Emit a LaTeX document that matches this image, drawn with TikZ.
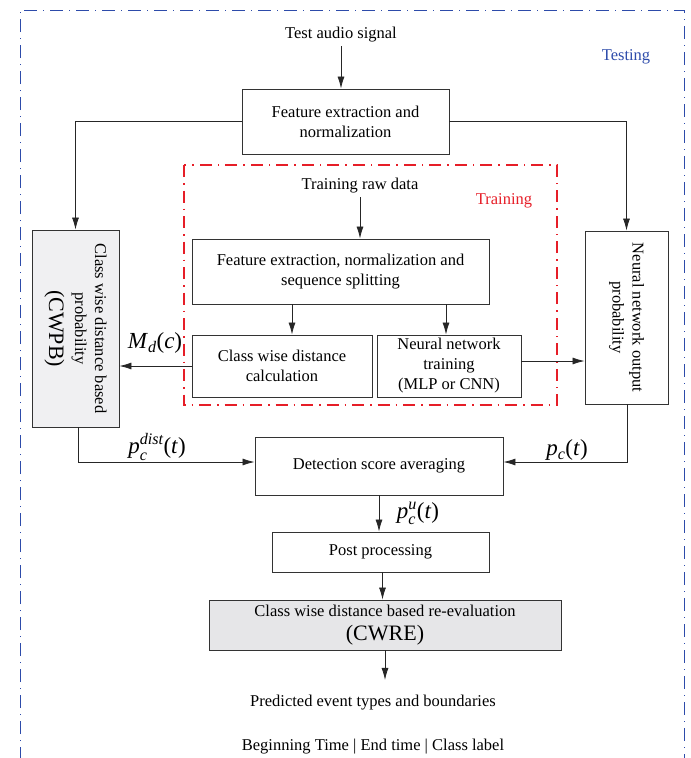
\documentclass[tikz,border=0pt]{standalone}
\usepackage{amsmath}
\usepackage{fontspec}
\setmainfont{Liberation Serif}
\usetikzlibrary{arrows.meta}
\definecolor{testblue}{RGB}{45,75,170}
\definecolor{trainred}{RGB}{230,30,40}
\definecolor{boxgray}{RGB}{240,240,242}
\definecolor{cwregray}{RGB}{230,230,232}

\begin{document}
\begin{tikzpicture}[x=1pt,y=-1pt]
    \tikzstyle{every node}=[font=\fontsize{16.5}{20}\selectfont]
    \tikzstyle{block}=[draw=black!80, line width=0.9pt, align=center, inner sep=0pt]
    \tikzstyle{flow}=[-{Latex[length=12pt,width=7pt]}, line width=0.8pt, draw=black!85]
    \tikzstyle{lab}=[font=\fontsize{23}{26}\selectfont]

    \useasboundingbox (0,0) rectangle (691,758);
    \draw[testblue, line width=1pt, dash pattern=on 13pt off 6pt on 1pt off 6pt]
        (20,760) -- (20,10) -- (684,10) -- (684,760);
    \draw[trainred, line width=1.3pt, dash pattern=on 12pt off 6pt on 1.5pt off 6pt]
        (184,165) rectangle (557,405);

    \node[testblue] (testing) at (626,57) {Testing};
    \node[trainred] (training) at (504,201) {Training};

    \node (test) at (341,35) {Test audio signal};
    \node[block, minimum width=207pt, minimum height=65pt] (fe) at (345.5,121.5) {Feature extraction and\\normalization};
    \node (raw) at (360,186) {Training raw data};
    \node[block, minimum width=297pt, minimum height=65pt] (fens) at (340.5,271.5) {Feature extraction, normalization and\\sequence splitting};
    \node[block, minimum width=180pt, minimum height=62pt] (cwd) at (282,366) {Class wise distance\\calculation};
    \node[block, minimum width=144pt, minimum height=62pt] (nnt) at (449,366) {Neural network\\training\\(MLP or CNN)};
    \node[block, fill=boxgray, minimum width=87pt, minimum height=197pt] (cwpb) at (75.5,328.5) {};
    \node[rotate=-90, align=center] (cwpbtext) at (cwpb.center) {Class wise distance based\\probability\\[6pt]{\fontsize{22}{24}\selectfont (CWPB)}};
    \node[block, minimum width=83pt, minimum height=173pt] (nno) at (626.5,317.5) {};
    \node[rotate=-90, align=center] (nnotext) at (nno.center) {Neural network output\\probability};
    \node[block, minimum width=248pt, minimum height=58pt] (det) at (379,466) {Detection score averaging};
    \node[block, minimum width=217pt, minimum height=40pt] (post) at (380.5,552) {Post processing};
    \node[block, fill=cwregray, minimum width=352pt, minimum height=50pt] (cwre) at (385,625) {Class wise distance based re-evaluation\\[4pt]{\fontsize{22}{24}\selectfont (CWRE)}};
    \node (pred) at (373,703) {Predicted event types and boundaries};
    \node (begin) at (373,747) {Beginning Time | End time | Class label};

    \node[lab] (md) at (155,343) {\textit{M}$_{\textit{d}}$(\textit{c})};
    \node[lab] (pdist) at (157,447) {\textit{p}$_{\textit{c}}^{\textit{dist}}$(\textit{t})};
    \node[lab] (pc) at (567,450) {\textit{p}$_{\textit{c}}$(\textit{t})};
    \node[lab] (pu) at (418,513) {\textit{p}$_{\textit{c}}^{\textit{u}}$(\textit{t})};

    \draw[flow] (test.south) -- (test.south |- fe.north);
    \draw[flow] (fe.west) -| (cwpb.north);
    \draw[flow] (fe.east) -| (nno.north);
    \draw[flow] (raw.south) -- (raw.south |- fens.north);
    \draw[flow] ([xshift=10pt]cwd.north |- fens.south) -- ([xshift=10pt]cwd.north);
    \draw[flow] ([xshift=-3pt]nnt.north |- fens.south) -- ([xshift=-3pt]nnt.north);
    \draw[flow] (cwd.west) -- (cwd.west -| cwpb.east);
    \draw[flow] ([yshift=5pt]nnt.east) -- ([yshift=5pt]nnt.east -| nno.west);
    \draw[flow] ([xshift=3pt]cwpb.south) |- ([yshift=4pt]det.west);
    \draw[flow] ([xshift=1pt]nno.south) |- ([yshift=4pt]det.east);
    \draw[flow] (det.south) -- (det.south |- post.north);
    \draw[flow] ([xshift=2pt]post.south) -- ([xshift=2pt]post.south |- cwre.north);
    \draw[flow, shorten >=12pt] (cwre.south) -- (cwre.south |- pred.north);
\end{tikzpicture}
\end{document}
